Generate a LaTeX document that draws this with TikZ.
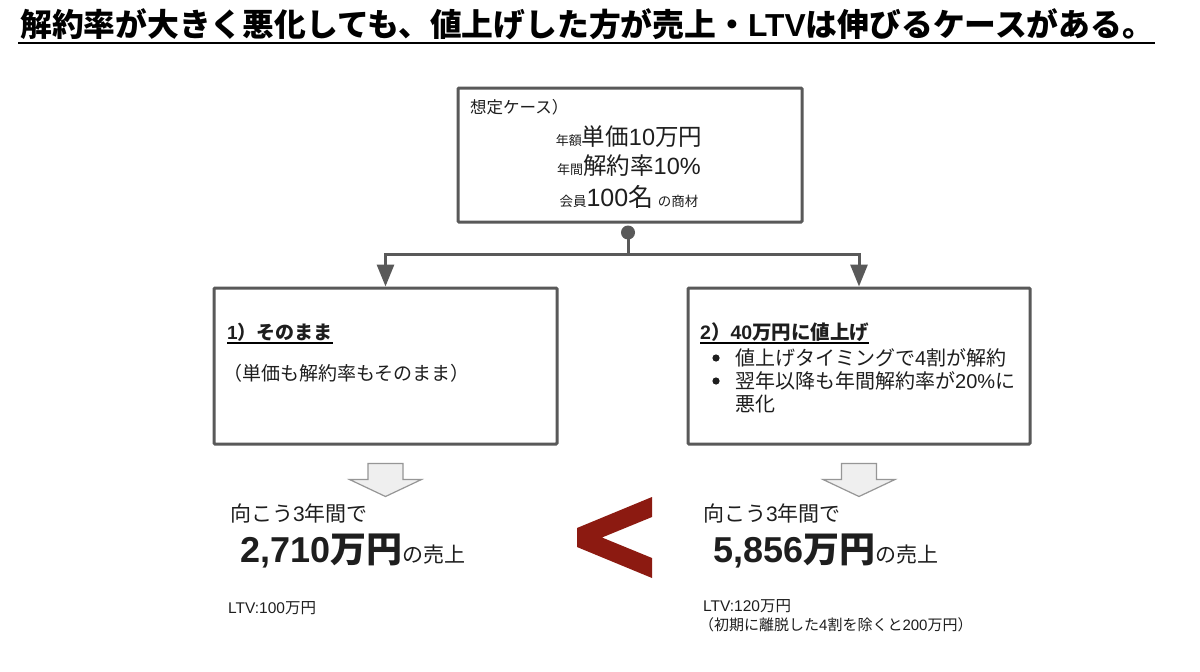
\documentclass[tikz,border=0pt]{standalone}
\usepackage{fontspec}
\setmainfont{Noto Sans CJK JP}
\newfontfamily\en{Liberation Sans}
\usetikzlibrary{arrows.meta,positioning,calc}
\definecolor{boxgray}{RGB}{89,89,89}
\definecolor{inkdark}{RGB}{30,30,30}
\definecolor{ltgray}{RGB}{239,239,239}
\definecolor{arrowedge}{RGB}{150,150,150}
\definecolor{ltvred}{RGB}{140,26,17}
\newcommand\fsz[1]{\fontsize{#1}{#1}\selectfont}

\begin{document}
\begin{tikzpicture}[x=1pt, y=-1pt,
    casebox/.style={rectangle, draw=boxgray, line width=3pt, fill=white,
        inner sep=0pt, rounded corners=1pt},
    conn/.style={draw=boxgray, line width=3pt},
    blockarrow/.style={fill=ltgray, draw=arrowedge, line width=1.2pt},
    txt/.style={inner sep=0pt, text=inkdark, anchor=base west},
    >={Triangle[width=17pt,length=22pt]}
]
\useasboundingbox[fill=white] (0,0) rectangle (1200,672);

% title
\node[txt, text=black, font=\bfseries\fsz{31.8}] (title) at (20,36)
    {解約率が大きく悪化しても、値上げした方が売上・{\en LTV}は伸びるケースがある。};
\draw[line width=2.5pt] ([yshift=-7pt]title.base west) ++(-2,0) -- ++(1137,0);

% boxes
\node[casebox, minimum width=344pt, minimum height=134pt] (cas) at (630,155) {};
\node[casebox, minimum width=343pt, minimum height=156pt] (keep) at (385.5,366) {};
\node[casebox, minimum width=342pt, minimum height=156pt] (raise) at (859,366) {};

% assumed case
\node[txt, font=\fsz{16.5}] (casehead) at (470,113) {想定ケース）};
\node[txt, anchor=base] (price) at (629,145)
    {{\fsz{13}年額}{\fsz{23.5}単価{\en 10}万円}};
\node[txt, anchor=base] (churn) at (629,174)
    {{\fsz{13}年間}{\fsz{23.5}解約率{\en 10\%}}};
\node[txt, anchor=base] (members) at (629,206)
    {{\fsz{13.5}会員}{\fsz{25}{\en 100}名}\,{\fsz{13.5} の商材}};

% split
\coordinate (knob) at ($(cas.south)+(-2,9)$);
\coordinate (hub) at ($(knob)+(0,22)$);
\fill[boxgray] (knob) circle (7pt);
\draw[conn] (knob) -- (hub);
\draw[conn,->] (hub) -| (keep.north);
\draw[conn,->] (hub) -| (raise.north);

% 1) keep
\node[txt, font=\bfseries\fsz{19}] (keephead) at (227,339) {{\en 1}）そのまま};
\draw[line width=1.4pt] ([yshift=-4pt]keephead.base west) -- ([yshift=-4pt]keephead.base east);
\node[txt, font=\fsz{19}] (keepnote) at (223,380) {（単価も解約率もそのまま）};

% 2) raise
\node[txt, font=\bfseries\fsz{19.5}] (raisehead) at (700,339) {{\en 2}）{\en 40}万円に値上げ};
\draw[line width=1.4pt] ([yshift=-4pt]raisehead.base west) -- ([yshift=-4pt]raisehead.base east);
\node[txt, font=\fsz{20}] (r1) at (735,365) {値上げタイミングで{\en 4}割が解約};
\node[txt, font=\fsz{20}] (r2) at (735,388) {翌年以降も年間解約率が{\en 20\%}に};
\node[txt, font=\fsz{20}] (r3) at (735,411) {悪化};
\fill[inkdark] ($(r1.base west)+(-19,-7)$) circle (3.6pt);
\fill[inkdark] ($(r2.base west)+(-19,-7)$) circle (3.6pt);

% block arrows
\foreach \b in {keep,raise}
  \draw[blockarrow] ($(\b.south)+(-17.5,18)$) -- ++(35,0) -- ++(0,16) -- ++(18.5,0)
      -- ++(-36,17) -- ++(-36,-17) -- ++(18.5,0) -- cycle;

% results
\node[txt, font=\fsz{21}] (keepyrs) at (230,521) {向こう{\en 3}年間で};
\node[txt] (keepsum) at (240,562)
    {{\bfseries\fsz{36}{\en 2,710}万円}{\fsz{21}の売上}};
\node[txt, font=\fsz{15.5}] (keepltv) at (228,613) {{\en LTV:100}万円};

\node[txt, font=\fsz{21}] (raiseyrs) at (703,521) {向こう{\en 3}年間で};
\node[txt] (raisesum) at (713,562)
    {{\bfseries\fsz{36}{\en 5,856}万円}{\fsz{21}の売上}};
\node[txt, font=\fsz{15.5}] (raiseltv) at (703,611) {{\en LTV:120}万円};
\node[txt, font=\fsz{15}] (raisenote) at (699,630) {（初期に離脱した{\en 4}割を除くと{\en 200}万円）};

% comparison mark
\fill[ltvred] (577,528) -- (652,497) -- (652,517) -- (602,537.5) -- (652,558)
    -- (652,578) -- (577,547) -- cycle;
\end{tikzpicture}
\end{document}
